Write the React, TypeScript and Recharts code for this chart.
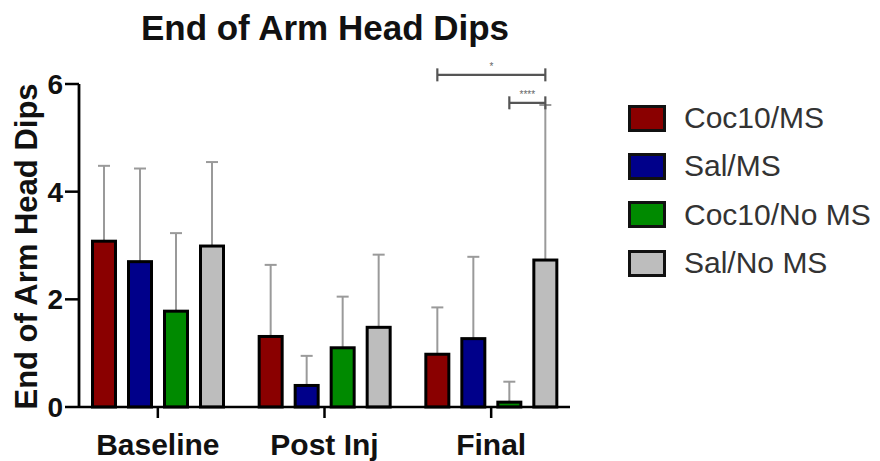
import React from 'react';
import { BarChart, Bar, XAxis, YAxis, Legend, Customized } from 'recharts';

const FONT = '"Liberation Sans", Arial, Helvetica, sans-serif';

const categories = ['Baseline', 'Post Inj', 'Final'];
const seriesNames = ['Coc10/MS', 'Sal/MS', 'Coc10/No MS', 'Sal/No MS'];
const seriesColors = ['#8a0000', '#00008a', '#008a00', '#bdbdbd'];

// group means and SD (upper error only)
const coc10MsMean = [3.08, 1.31, 0.98];
const coc10MsSd = [1.4, 1.33, 0.87];
const salMsMean = [2.7, 0.4, 1.27];
const salMsSd = [1.73, 0.55, 1.52];
const coc10NoMsMean = [1.78, 1.1, 0.09];
const coc10NoMsSd = [1.45, 0.95, 0.38];
const salNoMsMean = [2.99, 1.48, 2.73];
const salNoMsSd = [1.56, 1.35, 2.88];

const yTicks = [0, 2, 4, 6];

// significance brackets within the Final group (series index pairs, height in data units)
const finalBrackets = [
  { from: 0, to: 3, y: 6.17, label: '*' },
  { from: 2, to: 3, y: 5.65, label: '****' },
];
const bracketCategory = 2;

const means = [coc10MsMean, salMsMean, coc10NoMsMean, salNoMsMean];
const sds = [coc10MsSd, salMsSd, coc10NoMsSd, salNoMsSd];

const rows = categories.map((name, c) => {
  const row: Record<string, string | number> = { name };
  means.forEach((m, s) => {
    row[`s${s}`] = m[c];
    row[`e${s}`] = sds[s][c];
  });
  return row;
});

const BAR_SIZE = 23;
const BAR_GAP = 13;

function makeShape(s: number) {
  return (props: any) => {
    const { x, y, width, height, payload, index } = props;
    const v = Number(payload[`s${s}`]);
    const e = Number(payload[`e${s}`]);
    const k = v > 0 ? height / v : 0;
    const cx = x + width / 2;
    const base = y + height;
    const errTop = y - e * k;
    const brackets =
      s === seriesNames.length - 1 && index === bracketCategory
        ? finalBrackets.map((b, i) => {
            const step = BAR_SIZE + BAR_GAP;
            const x1 = cx - (s - b.from) * step;
            const x2 = cx - (s - b.to) * step;
            const by = base - b.y * k;
            return (
              <g key={i}>
                <line x1={x1} x2={x2} y1={by} y2={by} stroke="#555" strokeWidth={2.2} />
                <line x1={x1} x2={x1} y1={by - 6.5} y2={by + 6.5} stroke="#555" strokeWidth={2.2} />
                <line x1={x2} x2={x2} y1={by - 6.5} y2={by + 6.5} stroke="#555" strokeWidth={2.2} />
                <text
                  x={(x1 + x2) / 2}
                  y={by - 5}
                  textAnchor="middle"
                  fontSize={10}
                  fill="#666"
                  fontFamily={FONT}
                >
                  {b.label}
                </text>
              </g>
            );
          })
        : null;
    return (
      <g>
        <line x1={cx} x2={cx} y1={y} y2={errTop} stroke="#9a9a9a" strokeWidth={2} />
        <line x1={cx - 6} x2={cx + 6} y1={errTop} y2={errTop} stroke="#9a9a9a" strokeWidth={2} />
        <rect
          x={x}
          y={y}
          width={width}
          height={height}
          fill={seriesColors[s]}
          stroke="#000"
          strokeWidth={3}
        />
        {brackets}
      </g>
    );
  };
}

const LEGEND_WIDTH = 252;

function LegendBox() {
  return (
    <div style={{ width: LEGEND_WIDTH, fontFamily: FONT }}>
      {seriesNames.map((n, i) => (
        <div key={n} style={{ height: 48.3, display: 'flex', alignItems: 'center' }}>
          <div
            style={{
              width: 32,
              height: 21,
              border: '3px solid #111',
              background: seriesColors[i],
              flexShrink: 0,
            }}
          />
          <span style={{ marginLeft: 18, fontSize: 30, color: '#333', whiteSpace: 'nowrap' }}>
            {n}
          </span>
        </div>
      ))}
    </div>
  );
}

function Titles() {
  return (
    <g fontFamily={FONT} fontWeight="bold" fill="#111">
      <text x={325} y={39.5} textAnchor="middle" fontSize={35}>
        End of Arm Head Dips
      </text>
      <text x={37} y={246.5} textAnchor="middle" fontSize={31} transform="rotate(-90 37 246.5)">
        End of Arm Head Dips
      </text>
    </g>
  );
}

export default function App() {
  return (
    <div style={{ position: 'absolute', left: 0, top: 0, width: 880, height: 461, background: '#fff' }}>
      <BarChart
        width={880}
        height={461}
        data={rows}
        margin={{ top: 84, right: 310 - LEGEND_WIDTH, bottom: 0, left: 0 }}
        barSize={BAR_SIZE}
        barGap={BAR_GAP}
      >
        <XAxis
          dataKey="name"
          height={54}
          interval={0}
          padding={{ left: -4.5, right: -4.5 }}
          tickSize={11}
          tickMargin={16}
          axisLine={{ stroke: '#000', strokeWidth: 2.5 }}
          tickLine={{ stroke: '#000', strokeWidth: 2.5 }}
          tick={{ fontSize: 30, fontWeight: 'bold', fill: '#111', fontFamily: FONT }}
        />
        <YAxis
          width={79}
          domain={[0, 6]}
          ticks={yTicks}
          interval={0}
          tickSize={14}
          tickMargin={2}
          axisLine={{ stroke: '#000', strokeWidth: 2.8 }}
          tickLine={{ stroke: '#000', strokeWidth: 2.5 }}
          tick={{ fontSize: 28, fontWeight: 'bold', fill: '#111', fontFamily: FONT }}
        />
        <Legend
          layout="vertical"
          align="right"
          verticalAlign="top"
          wrapperStyle={{ left: 628, top: 94, width: LEGEND_WIDTH, right: 'auto' }}
          content={() => <LegendBox />}
        />
        {seriesNames.map((n, s) => (
          <Bar
            key={n}
            dataKey={`s${s}`}
            name={n}
            fill={seriesColors[s]}
            shape={makeShape(s)}
            isAnimationActive={false}
          />
        ))}
        <Customized component={Titles} />
      </BarChart>
    </div>
  );
}
